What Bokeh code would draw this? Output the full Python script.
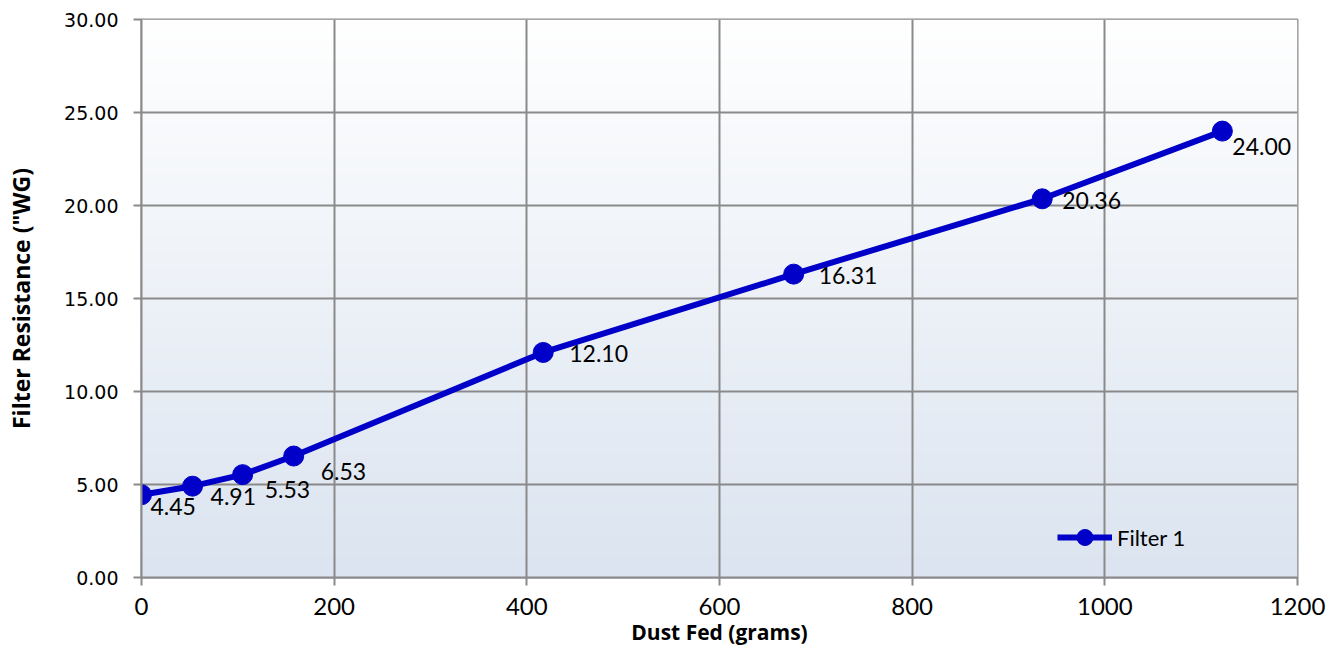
import numpy as np
from bokeh.plotting import figure
from bokeh.models import ColumnDataSource, Legend, LegendItem, LabelSet, NumeralTickFormatter, FixedTicker
from bokeh.core.properties import value
from bokeh.embed import file_html
from bokeh.resources import INLINE

# data
dust_fed = [0, 53, 105, 158, 417, 677, 935, 1122]
resistance = [4.45, 4.91, 5.53, 6.53, 12.10, 16.31, 20.36, 24.00]
label_text = ["4.45", "4.91", "5.53", "6.53", "12.10", "16.31", "20.36", "24.00"]
x_ticks = [0, 200, 400, 600, 800, 1000, 1200]
y_ticks = [0, 5, 10, 15, 20, 25, 30]
series_name = "Filter 1"

# label offsets (screen px)
lab_dx = [9, 18, 22, 27, 26, 25, 20, 10]
lab_dy = [-12, -10, -15, -15, -1, -1, -2, -15]

LINE = "#0000c8"
GRID = "#8a8a8a"

p = figure(width=1336, height=648, x_range=(0, 1200), y_range=(0, 30),
           output_backend="svg", toolbar_location=None,
           min_border_left=141, min_border_right=39, min_border_top=19, min_border_bottom=71)

# gradient background
grad = np.linspace(0, 1, 256)
top = np.array([255, 255, 255]); bot = np.array([219, 228, 240])
img = np.zeros((256, 1), dtype=np.uint32)
view = img.view(dtype=np.uint8).reshape((256, 1, 4))
for i, t in enumerate(grad):
    c = bot + (top - bot) * t
    view[i, 0, 0] = int(c[0]); view[i, 0, 1] = int(c[1]); view[i, 0, 2] = int(c[2]); view[i, 0, 3] = 255
p.image_rgba(image=[img], x=0, y=0, dw=1200, dh=30, level="image")

p.background_fill_color = "white"
p.outline_line_color = GRID
p.outline_line_width = 2

src = ColumnDataSource(dict(x=dust_fed, y=resistance, t=label_text, dx=lab_dx, dy=lab_dy))
r_line = p.line("x", "y", source=src, line_color=LINE, line_width=6)
r_pts = p.scatter("x", "y", source=src, size=20, fill_color=LINE, line_color=LINE)

labels = LabelSet(x="x", y="y", text="t", x_offset="dx", y_offset="dy", source=src,
                  text_font=value("Lato"), text_font_size="23px", text_color="black",
                  text_baseline="middle", text_align="left")
p.add_layout(labels)

legend = Legend(items=[LegendItem(label=series_name, renderers=[r_line, r_pts])],
                location=(916, 20), padding=0, margin=0, border_line_color=None,
                background_fill_alpha=0, glyph_width=55, glyph_height=40,
                label_text_font="Lato", label_text_font_size="22px", label_standoff=5,
                label_text_color="black", label_text_baseline="middle")
p.add_layout(legend)

# axes
p.xaxis.ticker = FixedTicker(ticks=x_ticks)
p.yaxis.ticker = FixedTicker(ticks=y_ticks)
p.yaxis.formatter = NumeralTickFormatter(format="0.00")
for ax in (p.xaxis, p.yaxis):
    ax.axis_line_color = GRID
    ax.axis_line_width = 2
    ax.major_tick_line_color = GRID
    ax.major_tick_line_width = 2
    ax.major_tick_out = 8
    ax.major_tick_in = 0
    ax.minor_tick_line_color = None
    ax.major_label_text_color = "black"
p.xaxis.major_label_text_font = "Lato"
p.xaxis.major_label_text_font_size = "24px"
p.xaxis.major_label_standoff = 12
p.yaxis.major_label_text_font = "DejaVu Sans"
p.yaxis.major_label_text_font_size = "19px"
p.yaxis.major_label_standoff = 15

p.xaxis.axis_label = "Dust Fed (grams)"
p.yaxis.axis_label = "Filter Resistance (\"WG)"
for ax in (p.xaxis, p.yaxis):
    ax.axis_label_text_font = "Open Sans"
    ax.axis_label_text_font_style = "bold"
    ax.axis_label_text_color = "black"
p.xaxis.axis_label_text_font_size = "21px"
p.yaxis.axis_label_text_font_size = "23px"
p.xaxis.axis_label_standoff = 0
p.yaxis.axis_label_standoff = 24

p.xgrid.grid_line_color = GRID
p.xgrid.grid_line_width = 2
p.ygrid.grid_line_color = GRID
p.ygrid.grid_line_width = 2

open("out.html", "w").write(file_html(p, INLINE))
